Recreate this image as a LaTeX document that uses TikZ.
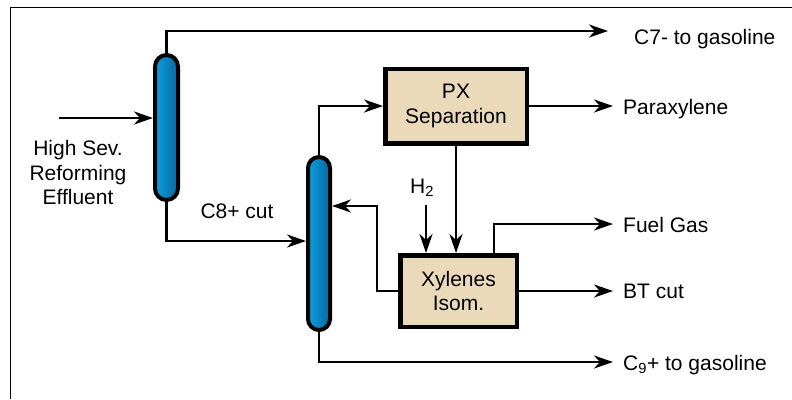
\documentclass[tikz,border=0pt]{standalone}
\usepackage{fontspec}
\setmainfont{Liberation Sans}
\usetikzlibrary{arrows.meta, calc}
\definecolor{colblue}{HTML}{0AA0E0}
\definecolor{coldark}{HTML}{0A669C}
\definecolor{sand}{HTML}{EADABA}

\begin{document}
\begin{tikzpicture}[x=1bp, y=-1bp, font=\fontsize{21bp}{24.5bp}\selectfont,
  column/.style={draw=black, line width=4bp, left color=colblue, right color=coldark, inner sep=0pt},
  unit/.style={draw=black, line width=4.5bp, fill=sand, align=center, inner sep=0pt},
  stream/.style={inner sep=0pt, anchor=base west},
  flow/.style={line width=2.8bp, -{Stealth[length=19bp, width=13bp, inset=6bp]}}
]
  \useasboundingbox (0,0) rectangle (792,399);
  \draw[line width=1.4bp] (10.3,399) -- (10.3,7.3) -- (792,7.3);

  \node[column, rounded corners=11.5bp, minimum width=23bp, minimum height=145bp] (col1) at (166.5,127.5) {};
  \node[column, rounded corners=11bp, minimum width=22bp, minimum height=173bp] (col2) at (319,243.5) {};

  \node[unit, minimum width=141.5bp, minimum height=74.5bp] (px) at (456,106) {PX\\Separation};
  \node[unit, minimum width=116.5bp, minimum height=71.5bp] (isom) at (458.5,291) {Xylenes\\Isom.};

  \node[align=center, inner sep=0pt] (feed) at (78,172.5) {High Sev.\\Reforming\\Effluent};
  \node[inner sep=0pt, anchor=base] (c8cut) at (237,218) {C8+ cut};
  \node[inner sep=0pt, anchor=base] (h2) at (422,193) {H\textsubscript{2}};

  \node[stream] (c7) at (634,44) {C7- to gasoline};
  \node[stream] (para) at (623,114) {Paraxylene};
  \node[stream] (fuel) at (623,232) {Fuel Gas};
  \node[stream] (bt) at (623,298) {BT cut};
  \node[stream] (c9) at (623,370) {C\textsubscript{9}+ to gasoline};

  \coordinate (feedin) at (59,118);
  \coordinate (c7end) at (608,31);
  \coordinate (fuelend) at (613,224);
  \coordinate (c9end) at (613,362);
  \coordinate (h2in) at (426,205);
  \coordinate (recycle) at (377,206);

  \draw[flow] (feedin) -- (feedin -| col1.west);
  \draw[flow] (col1.north) |- (c7end);
  \draw[flow] (col1.south) |- ([yshift=2.5bp]col2.west);
  \draw[flow] (col2.north) |- (px.west);
  \draw[flow] (px.east) -- (px.east -| fuelend);
  \draw[flow] (px.south) -- (px.south |- isom.north);
  \draw[flow] (h2in) -- (h2in |- isom.north);
  \draw[flow] (isom.west) -| (recycle) -- (recycle -| col2.east);
  \draw[flow] ([xshift=35.5bp]isom.north) |- (fuelend);
  \draw[flow] (isom.east) -- (isom.east -| fuelend);
  \draw[flow] (col2.south) |- (c9end);
\end{tikzpicture}
\end{document}
